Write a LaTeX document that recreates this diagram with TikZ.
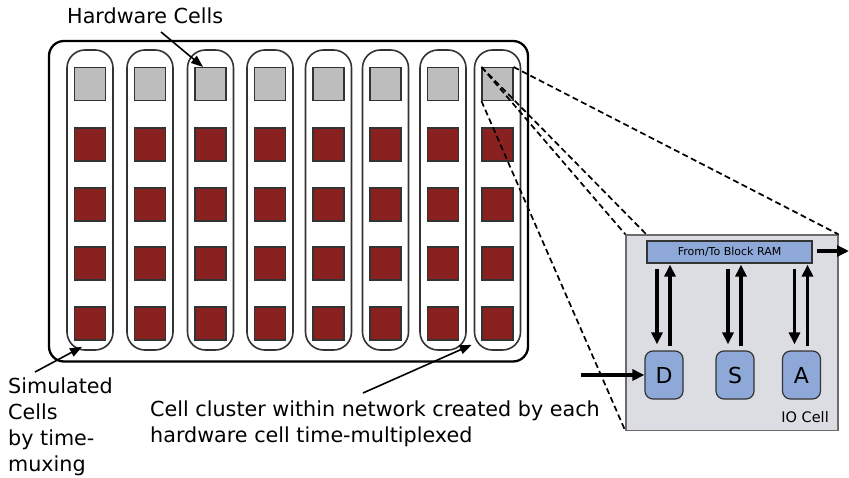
\documentclass[tikz,border=0pt]{standalone}
\usepackage{fontspec}
\setmainfont{DejaVu Sans}
\usetikzlibrary{arrows.meta,calc}
\definecolor{cellgray}{HTML}{BDBDBD}
\definecolor{cellred}{HTML}{8A2121}
\definecolor{iofill}{HTML}{DCDDE2}
\definecolor{ioblue}{HTML}{8EA8D8}
\definecolor{edgegray}{HTML}{333333}
\begin{document}
\begin{tikzpicture}[x=1pt,y=-1pt,
  lbl/.style={font=\fontsize{20.7}{26}\selectfont, inner sep=0pt, align=left},
  board/.style={draw=black, line width=2.3pt, rounded corners=15pt, fill=white,
    minimum width=479pt, minimum height=320.5pt, inner sep=0pt},
  cluster/.style={draw=edgegray, line width=1.6pt, rounded corners=18pt, fill=white,
    minimum width=46pt, minimum height=300pt, inner sep=0pt},
  hwcell/.style={draw=edgegray, line width=1.1pt, fill=cellgray,
    minimum width=31pt, minimum height=33pt, inner sep=0pt},
  simcell/.style={hwcell, fill=cellred},
  pointer/.style={line width=1.6pt, -{Triangle[length=12pt,width=9pt]}},
  zoomline/.style={line width=1.7pt, dash pattern=on 6pt off 3.5pt},
  iobox/.style={draw=gray!85!black, line width=1.2pt, fill=iofill,
    minimum width=212pt, minimum height=195.5pt, inner sep=0pt},
  rambar/.style={draw=edgegray, line width=1.2pt, fill=ioblue,
    minimum width=165pt, minimum height=22pt, inner sep=0pt,
    font=\fontsize{11}{12}\selectfont},
  unit/.style={draw=edgegray, line width=1.2pt, fill=ioblue, rounded corners=8pt,
    minimum width=38pt, minimum height=48pt, inner sep=0pt,
    font=\fontsize{22}{24}\selectfont},
  bigarrow/.style={line width=3.8pt, -{Triangle[length=12pt,width=11pt]}}
]
\useasboundingbox (0,0) rectangle (849,477);

% FPGA board with eight hardware cell clusters
\node[board] (fpga) at (288.5,201.25) {};
\foreach \i/\cx in {1/90,2/150,3/210.5,4/270,5/328.5,6/385.5,7/443,8/497.5}{
  \node[cluster] (col\i) at (\cx,200) {};
  \node[hwcell] (g\i) at (\cx,84) {};
  \foreach \j/\cy in {2/144.5,3/204.5,4/263.5,5/323.5}
    \node[simcell] (r\i-\j) at (\cx,\cy) {};
}

% labels
\node[lbl, anchor=base west] (hwlabel) at (67,23) {Hardware Cells};
\coordinate (hwtail) at (161,32);
\draw[pointer] (hwtail) -- ($(g3.north)+(-7.5,0)$);

\node[lbl, anchor=north west] (simlabel) at (8,377.5) {Simulated\\Cells\\by time-\\muxing};
\coordinate (simtail) at (35,372);
\draw[pointer] (simtail) -- ($(col1.south)+(-8,-4)$);

\node[lbl, anchor=base west] (clusterlabel) at (150,442)
  {Cell cluster within network created by each\\hardware cell time-multiplexed};
\coordinate (clustertail) at (363,393);
\draw[pointer] (clustertail) -- ($(col8.south west)+(-2,-6)$);

% IO cell detail
\node[iobox] (io) at (732,332.75) {};
\node[rambar] (bar) at (729.5,252) {From/To Block RAM};
\node[unit] (D) at (664,375) {D};
\node[unit] (S) at (735,375) {S};
\node[unit] (A) at (801.5,375) {A};
\node[font=\fontsize{14.5}{16}\selectfont, inner sep=0pt, anchor=base east] (iolabel) at (829,422) {IO Cell};

% zoom guides from the last hardware cell
\draw[zoomline] (g8.north east) -- (io.north east);
\draw[zoomline] (g8.north west) -- (io.north west);
\draw[zoomline] (g8.north west) -- (bar.west |- io.north);
\draw[zoomline] (g8.south west) -- (io.south west);

% data paths between block RAM and the units
\foreach \u in {D,S,A}{
  \draw[bigarrow] ($(bar.south -| \u.north)+(-7,5)$) -- ($(\u.north)+(-7,-6)$);
  \draw[bigarrow] ($(\u.north)+(6,-4)$) -- ($(bar.south -| \u.north)+(6,1)$);
}
\coordinate (ramout) at (849,251);
\draw[bigarrow] ($(bar.east)+(4,-1)$) -- (ramout);
\coordinate (dinput) at (581,375);
\draw[bigarrow] (dinput) -- (D.west);
\end{tikzpicture}
\end{document}
